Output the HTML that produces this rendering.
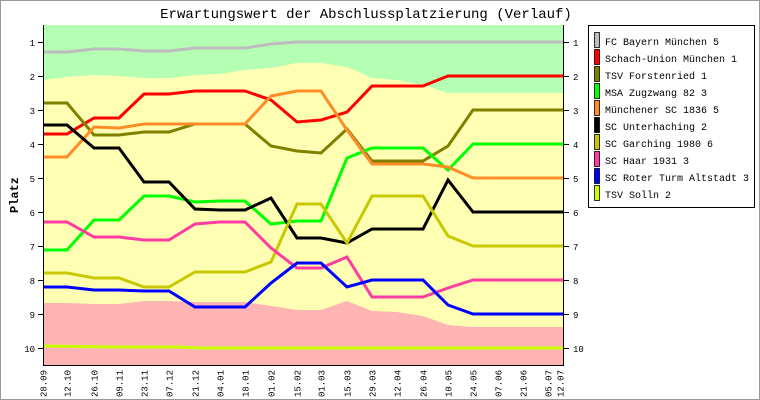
<!DOCTYPE html>
<html><head><meta charset="utf-8"><style>
html,body{margin:0;padding:0;background:#fff;}
svg{display:block;font-family:"Liberation Mono",monospace;}
</style></head><body>
<svg width="760" height="400" viewBox="0 0 760 400">
<rect x="0.5" y="0.5" width="759" height="399" fill="#fff" stroke="#999"/>
<text x="366" y="18" font-size="14" text-anchor="middle">Erwartungswert der Abschlussplatzierung (Verlauf)</text>
<!-- backgrounds -->
<rect x="43" y="25" width="520" height="340" fill="#ffffb4"/>
<polygon fill="#b4ffb4" points="43,25 563,25 563,93 473,93 448,93 423,85 397,80 372,78 347,67 321,63 297,63 271,68 245,70 220,74 195,75 169,78 144,78 119,76 94,75 67,77 43,80"/>
<polygon fill="#ffb4b4" points="43,303 67,303 94,304 119,304 144,301 169,301 195,302 220,302 245,302 271,306 297,310 321,310 347,301 372,311 397,312 423,316 448,325 473,327 563,327 563,365 43,365"/>
<g fill="none" stroke-width="3" stroke-linejoin="miter">
<polyline stroke="#bdbdbd" points="43,52 67,52 94,49 119,49 144,51 169,51 195,48 220,48 245,48 271,44 297,42 563,42"/>
<polyline stroke="#ff0000" points="43,134 67,134 94,118 119,118 144,94 169,94 195,91 220,91 245,91 271,100 297,122 321,120 347,112 372,86 397,86 423,86 448,76 563,76"/>
<polyline stroke="#808000" points="43,103 67,103 94,135 119,135 144,132 169,132 195,124 220,124 245,124 271,146 297,151 321,153 347,129 372,161 397,161 423,161 448,146 473,110 563,110"/>
<polyline stroke="#00ff00" points="43,250 67,250 94,220 119,220 144,196 169,196 195,202 220,201 245,201 271,224 297,221 321,221 347,158 372,148 397,148 423,148 448,170 473,144 563,144"/>
<polyline stroke="#ff8c28" points="43,157 67,157 94,127 119,128 144,124 169,124 195,124 220,124 245,124 271,96 297,91 321,91 347,130 372,164 397,164 423,164 448,167 473,178 563,178"/>
<polyline stroke="#000000" points="43,125 67,125 94,148 119,148 144,182 169,182 195,209 220,210 245,210 271,198 297,238 321,238 347,243 372,229 397,229 423,229 448,180 473,212 563,212"/>
<polyline stroke="#c8c800" points="43,273 67,273 94,278 119,278 144,287 169,287 195,272 220,272 245,272 271,262 297,204 321,204 347,243 372,196 397,196 423,196 448,236 473,246 563,246"/>
<polyline stroke="#ff3ca0" points="43,222 67,222 94,237 119,237 144,240 169,240 195,224 220,222 245,222 271,248 297,268 321,268 347,257 372,297 397,297 423,297 448,288 473,280 563,280"/>
<polyline stroke="#0000ff" points="43,287 67,287 94,290 119,290 144,291 169,291 195,307 220,307 245,307 271,283 297,263 321,263 347,287 372,280 397,280 423,280 448,305 473,314 563,314"/>
<polyline stroke="#c8ff00" points="43,346 120,347 180,347 200,348 563,348"/>
</g>
<!-- axes -->
<line x1="43.5" y1="25" x2="43.5" y2="365" stroke="#000"/>
<line x1="563.5" y1="25" x2="563.5" y2="365" stroke="#000"/>
<line x1="43" y1="365.5" x2="564" y2="365.5" stroke="#000"/>
<g stroke="#000">
<line x1="38" x2="43" y1="42.5" y2="42.5"/><line x1="38" x2="43" y1="76.5" y2="76.5"/><line x1="38" x2="43" y1="110.5" y2="110.5"/><line x1="38" x2="43" y1="144.5" y2="144.5"/><line x1="38" x2="43" y1="178.5" y2="178.5"/><line x1="38" x2="43" y1="212.5" y2="212.5"/><line x1="38" x2="43" y1="246.5" y2="246.5"/><line x1="38" x2="43" y1="280.5" y2="280.5"/><line x1="38" x2="43" y1="314.5" y2="314.5"/><line x1="38" x2="43" y1="348.5" y2="348.5"/>
<line x1="564" x2="569" y1="42.5" y2="42.5"/><line x1="564" x2="569" y1="76.5" y2="76.5"/><line x1="564" x2="569" y1="110.5" y2="110.5"/><line x1="564" x2="569" y1="144.5" y2="144.5"/><line x1="564" x2="569" y1="178.5" y2="178.5"/><line x1="564" x2="569" y1="212.5" y2="212.5"/><line x1="564" x2="569" y1="246.5" y2="246.5"/><line x1="564" x2="569" y1="280.5" y2="280.5"/><line x1="564" x2="569" y1="314.5" y2="314.5"/><line x1="564" x2="569" y1="348.5" y2="348.5"/>
</g>
<g font-size="9" text-anchor="end">
<text x="35" y="46">1</text><text x="35" y="80">2</text><text x="35" y="114">3</text><text x="35" y="148">4</text><text x="35" y="182">5</text><text x="35" y="216">6</text><text x="35" y="250">7</text><text x="35" y="284">8</text><text x="35" y="318">9</text><text x="35" y="352">10</text>
</g>
<g font-size="9">
<text x="573" y="46">1</text><text x="573" y="80">2</text><text x="573" y="114">3</text><text x="573" y="148">4</text><text x="573" y="182">5</text><text x="573" y="216">6</text><text x="573" y="250">7</text><text x="573" y="284">8</text><text x="573" y="318">9</text><text x="573" y="352">10</text>
</g>
<text transform="translate(18,195) rotate(-90)" font-size="12" font-weight="bold" text-anchor="middle">Platz</text>
<g font-size="9" text-anchor="end">
<text transform="translate(46.5,370) rotate(-90)">28.09</text>
<text transform="translate(70.5,370) rotate(-90)">12.10</text>
<text transform="translate(97.5,370) rotate(-90)">26.10</text>
<text transform="translate(122.5,370) rotate(-90)">09.11</text>
<text transform="translate(147.5,370) rotate(-90)">23.11</text>
<text transform="translate(172.5,370) rotate(-90)">07.12</text>
<text transform="translate(198.5,370) rotate(-90)">21.12</text>
<text transform="translate(223.5,370) rotate(-90)">04.01</text>
<text transform="translate(248.5,370) rotate(-90)">18.01</text>
<text transform="translate(274.5,370) rotate(-90)">01.02</text>
<text transform="translate(300.5,370) rotate(-90)">15.02</text>
<text transform="translate(324.5,370) rotate(-90)">01.03</text>
<text transform="translate(350.5,370) rotate(-90)">15.03</text>
<text transform="translate(375.5,370) rotate(-90)">29.03</text>
<text transform="translate(400.5,370) rotate(-90)">12.04</text>
<text transform="translate(426.5,370) rotate(-90)">26.04</text>
<text transform="translate(451.5,370) rotate(-90)">10.05</text>
<text transform="translate(476.5,370) rotate(-90)">24.05</text>
<text transform="translate(501.5,370) rotate(-90)">07.06</text>
<text transform="translate(526.5,370) rotate(-90)">21.06</text>
<text transform="translate(551.5,370) rotate(-90)">05.07</text>
<text transform="translate(563.5,370) rotate(-90)">12.07</text>
</g>
<!-- legend -->
<rect x="588.5" y="25.5" width="166" height="182" fill="#fff" stroke="#000"/>
<g stroke="#000" stroke-width="0.8">
<rect x="594.5" y="32.5" width="5" height="15" fill="#bdbdbd"/>
<rect x="594.5" y="49.5" width="5" height="15" fill="#ff0000"/>
<rect x="594.5" y="66.5" width="5" height="15" fill="#808000"/>
<rect x="594.5" y="83.5" width="5" height="15" fill="#00ff00"/>
<rect x="594.5" y="100.5" width="5" height="15" fill="#ff8c28"/>
<rect x="594.5" y="117.5" width="5" height="15" fill="#000000"/>
<rect x="594.5" y="134.5" width="5" height="15" fill="#c8c800"/>
<rect x="594.5" y="151.5" width="5" height="15" fill="#ff3ca0"/>
<rect x="594.5" y="168.5" width="5" height="15" fill="#0000ff"/>
<rect x="594.5" y="185.5" width="5" height="15" fill="#c8ff00"/>
</g>
<g font-size="10">
<text x="605" y="45">FC Bayern München 5</text>
<text x="605" y="62">Schach-Union München 1</text>
<text x="605" y="79">TSV Forstenried 1</text>
<text x="605" y="96">MSA Zugzwang 82 3</text>
<text x="605" y="113">Münchener SC 1836 5</text>
<text x="605" y="130">SC Unterhaching 2</text>
<text x="605" y="147">SC Garching 1980 6</text>
<text x="605" y="164">SC Haar 1931 3</text>
<text x="605" y="181">SC Roter Turm Altstadt 3</text>
<text x="605" y="198">TSV Solln 2</text>
</g>
</svg>
</body></html>
